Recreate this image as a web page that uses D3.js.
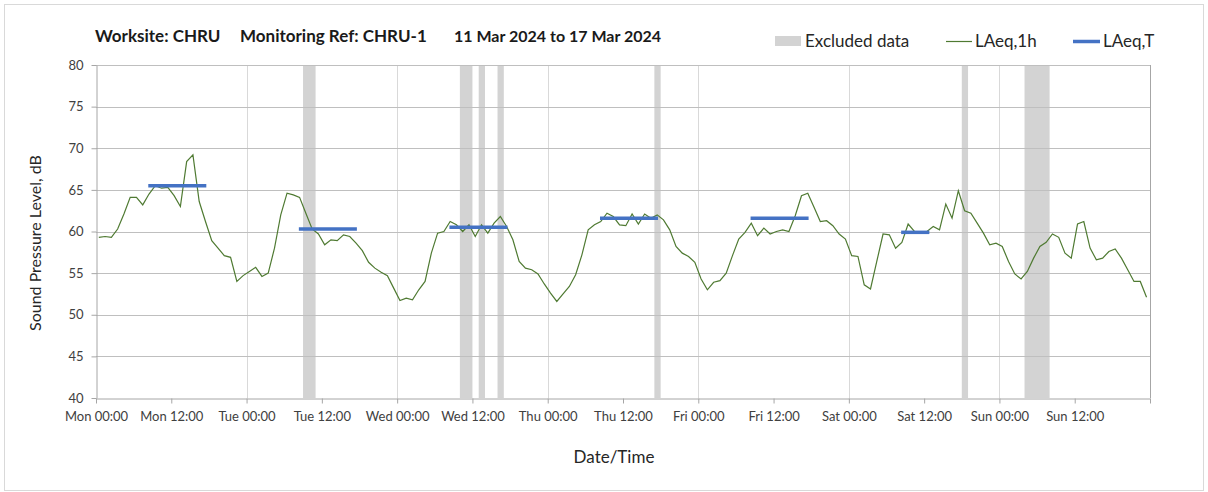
<!DOCTYPE html>
<html>
<head>
<meta charset="utf-8">
<script src="https://cdn.jsdelivr.net/npm/d3@7"></script>
<style>
  body { margin: 0; background: #fff; }
  text { font-family: Lato, "Noto Sans", sans-serif; }
</style>
</head>
<body>
<div id="chart"></div>
<script>
// hourly LAeq,1h readings, Mon 11 Mar 00:00 -> Sun 17 Mar 23:00
const laeq1h = [
  59.3, 59.4, 59.3, 60.3, 62.1, 64.1, 64.1, 63.2, 64.5, 65.5, 65.2, 65.3,
  64.3, 63.0, 68.4, 69.2, 63.6, 61.2, 58.9, 58.0, 57.1, 56.9, 54.0, 54.7,
  55.2, 55.7, 54.6, 55.0, 58.0, 62.0, 64.6, 64.4, 64.1, 62.2, 60.3, 59.7,
  58.4, 59.0, 58.9, 59.6, 59.4, 58.6, 57.7, 56.3, 55.6, 55.1, 54.7, 53.2,
  51.7, 52.0, 51.8, 53.0, 54.0, 57.4, 59.8, 60.0, 61.2, 60.8, 60.0, 60.8,
  59.4, 60.8, 59.8, 61.0, 61.8, 60.6, 59.0, 56.4, 55.6, 55.4, 54.9, 53.7,
  52.6, 51.6, 52.5, 53.4, 54.8, 57.2, 60.2, 60.8, 61.2, 62.2, 61.8, 60.8,
  60.7, 62.1, 60.9, 62.1, 61.6, 62.0, 61.4, 60.2, 58.2, 57.4, 57.0, 56.3,
  54.3, 53.0, 53.9, 54.1, 55.0, 57.1, 59.1, 59.9, 61.0, 59.5, 60.4, 59.7,
  60.0, 60.2, 60.0, 61.9, 64.3, 64.6, 62.9, 61.2, 61.3, 60.7, 59.7, 59.1,
  57.1, 57.0, 53.6, 53.1, 56.4, 59.7, 59.6, 58.0, 58.7, 60.9, 60.0, 60.0,
  60.0, 60.6, 60.2, 63.3, 61.6, 64.9, 62.5, 62.2, 61.0, 59.8, 58.4, 58.6,
  58.2, 56.4, 54.9, 54.3, 55.2, 56.8, 58.2, 58.7, 59.7, 59.3, 57.4, 56.8,
  60.9, 61.2, 58.0, 56.6, 56.8, 57.6, 57.9, 56.8, 55.4, 54.0, 54.0, 52.1
];

// LAeq,T daytime periods
const periodStart = ["2024-03-11T08:20", "2024-03-12T08:20", "2024-03-13T08:20", "2024-03-14T08:20", "2024-03-15T08:20", "2024-03-16T08:20"];
const periodEnd   = ["2024-03-11T17:35", "2024-03-12T17:35", "2024-03-13T17:35", "2024-03-14T17:35", "2024-03-15T17:35", "2024-03-16T12:50"];
const periodValue = [65.5, 60.3, 60.5, 61.6, 61.6, 59.9];

// excluded data windows
const excludedStart = ["2024-03-12T09:00", "2024-03-13T10:00", "2024-03-13T13:00", "2024-03-13T16:00", "2024-03-14T17:00", "2024-03-16T18:00", "2024-03-17T04:00"];
const excludedEnd   = ["2024-03-12T11:00", "2024-03-13T12:00", "2024-03-13T14:00", "2024-03-13T17:00", "2024-03-14T18:00", "2024-03-16T19:00", "2024-03-17T08:00"];

const yTicks = [40, 45, 50, 55, 60, 65, 70, 75, 80];
const xTickLabels = ["Mon 00:00", "Mon 12:00", "Tue 00:00", "Tue 12:00", "Wed 00:00", "Wed 12:00",
  "Thu 00:00", "Thu 12:00", "Fri 00:00", "Fri 12:00", "Sat 00:00", "Sat 12:00", "Sun 00:00", "Sun 12:00", ""];

const width = 1208, height = 492;
const margin = {left: 96, right: 58, top: 65, bottom: 94};
const parse = d3.timeParse("%Y-%m-%dT%H:%M");
const t0 = new Date(2024, 2, 11, 0, 0);
const t1 = new Date(2024, 2, 18, 0, 0);

const svg = d3.select("#chart").append("svg")
  .attr("width", width)
  .attr("height", height);

// outer chart border
svg.append("rect")
  .attr("x", 4.5).attr("y", 4.5)
  .attr("width", width - 9).attr("height", height - 6)
  .attr("fill", "#fff")
  .attr("stroke", "#d9d9d9");

const x = d3.scaleTime().domain([t0, t1]).range([margin.left, width - margin.right]);
const y = d3.scaleLinear().domain([40, 80]).range([height - margin.bottom, margin.top]);

// excluded bands
svg.append("g").selectAll("rect")
  .data(d3.range(excludedStart.length))
  .enter().append("rect")
  .attr("x", i => x(parse(excludedStart[i])))
  .attr("width", i => x(parse(excludedEnd[i])) - x(parse(excludedStart[i])))
  .attr("y", y(80))
  .attr("height", y(40) - y(80))
  .attr("fill", "#d3d3d3");

// grid lines
const dayTicks = d3.timeDay.range(d3.timeDay.offset(t0, 1), t1);
svg.append("g").selectAll("line")
  .data(dayTicks)
  .enter().append("line")
  .attr("x1", d => Math.round(x(d)) + 0.5).attr("x2", d => Math.round(x(d)) + 0.5)
  .attr("y1", y(80)).attr("y2", y(40))
  .attr("stroke", "#d9d9d9");

svg.append("g").selectAll("line")
  .data(yTicks.slice(1))
  .enter().append("line")
  .attr("x1", x(t0)).attr("x2", x(t1))
  .attr("y1", d => Math.round(y(d)) + 0.5).attr("y2", d => Math.round(y(d)) + 0.5)
  .attr("stroke", "#bfbfbf");

// right frame
svg.append("line")
  .attr("x1", Math.round(x(t1)) + 0.5).attr("x2", Math.round(x(t1)) + 0.5)
  .attr("y1", y(80)).attr("y2", y(40))
  .attr("stroke", "#a6a6a6");

// axes
const xTicks = d3.timeHour.every(12).range(t0, d3.timeHour.offset(t1, 1));
const xAxis = d3.axisBottom(x)
  .tickValues(xTicks)
  .tickFormat((d, i) => xTickLabels[i])
  .tickSizeInner(5).tickSizeOuter(0).tickPadding(8);
const gx = svg.append("g")
  .attr("transform", `translate(0,${Math.round(y(40)) + 0.5})`)
  .call(xAxis);
gx.select(".domain").attr("stroke", "#a6a6a6");
gx.selectAll(".tick line").attr("stroke", "#a6a6a6");
gx.selectAll(".tick text").attr("fill", "#404040").style("font-size", "13px");

const yAxis = d3.axisLeft(y).tickValues(yTicks).tickSizeInner(5).tickSizeOuter(0).tickPadding(8);
const gy = svg.append("g")
  .attr("transform", `translate(${Math.round(x(t0)) + 0.5},0)`)
  .call(yAxis);
gy.select(".domain").attr("stroke", "#a6a6a6");
gy.selectAll(".tick line").attr("stroke", "#a6a6a6");
gy.selectAll(".tick text").attr("fill", "#404040").style("font-size", "13px");

// LAeq,1h line
const line = d3.line()
  .x((d, i) => x(d3.timeMinute.offset(t0, i * 60 + 27)))
  .y(d => y(d));
svg.append("path")
  .datum(laeq1h)
  .attr("d", line)
  .attr("fill", "none")
  .attr("stroke", "#4f7a32")
  .attr("stroke-width", 1.2);

// LAeq,T periods
svg.append("g").selectAll("line")
  .data(d3.range(periodValue.length))
  .enter().append("line")
  .attr("x1", i => x(parse(periodStart[i])))
  .attr("x2", i => x(parse(periodEnd[i])))
  .attr("y1", i => y(periodValue[i]))
  .attr("y2", i => y(periodValue[i]))
  .attr("stroke", "#4472c4")
  .attr("stroke-width", 3.5);

// title
const title = svg.append("g").style("font-size", "17px").style("font-weight", "bold").attr("fill", "#1a1a1a");
title.append("text").attr("x", 95).attr("y", 42).text("Worksite: CHRU");
title.append("text").attr("x", 240).attr("y", 42).text("Monitoring Ref: CHRU-1");
title.append("text").attr("x", 454).attr("y", 42).style("font-size", "16px").text("11 Mar 2024 to 17 Mar 2024");

// legend
const legend = svg.append("g").style("font-size", "17px").attr("fill", "#262626");
legend.append("rect").attr("x", 775).attr("y", 36).attr("width", 26).attr("height", 10).attr("fill", "#d3d3d3");
legend.append("text").attr("x", 805).attr("y", 47).text("Excluded data");
legend.append("line").attr("x1", 946).attr("x2", 972).attr("y1", 41.5).attr("y2", 41.5)
  .attr("stroke", "#4f7a32").attr("stroke-width", 1.2);
legend.append("text").attr("x", 975).attr("y", 47).text("LAeq,1h");
legend.append("line").attr("x1", 1073).attr("x2", 1100).attr("y1", 41.5).attr("y2", 41.5)
  .attr("stroke", "#4472c4").attr("stroke-width", 3.5);
legend.append("text").attr("x", 1103).attr("y", 47).text("LAeq,T");

// axis titles
svg.append("text")
  .attr("x", 614).attr("y", 463)
  .attr("text-anchor", "middle")
  .style("font-size", "17px").attr("fill", "#262626")
  .text("Date/Time");
svg.append("text")
  .attr("transform", `translate(41,243) rotate(-90)`)
  .attr("text-anchor", "middle")
  .style("font-size", "16px").attr("fill", "#262626")
  .text("Sound Pressure Level, dB");
</script>
</body>
</html>
